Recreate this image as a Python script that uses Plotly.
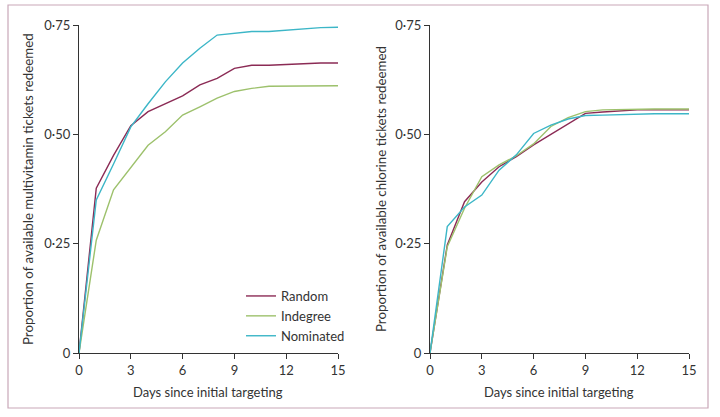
import plotly.graph_objects as go

days = list(range(16))

# Multivitamin panel
mv_random = [0, 0.377, 0.452, 0.520, 0.552, 0.570, 0.588, 0.613, 0.628, 0.651, 0.658, 0.658, 0.660, 0.662, 0.663, 0.663]
mv_indegree = [0, 0.258, 0.373, 0.424, 0.475, 0.506, 0.544, 0.563, 0.583, 0.598, 0.605, 0.610, 0.610, 0.610, 0.610, 0.611]
mv_nominated = [0, 0.350, 0.432, 0.517, 0.570, 0.620, 0.663, 0.697, 0.727, 0.731, 0.735, 0.735, 0.738, 0.741, 0.744, 0.745]

# Chlorine panel
cl_random = [0, 0.247, 0.346, 0.391, 0.426, 0.449, 0.476, 0.500, 0.525, 0.548, 0.551, 0.553, 0.556, 0.556, 0.556, 0.556]
cl_indegree = [0, 0.243, 0.331, 0.403, 0.430, 0.451, 0.478, 0.518, 0.538, 0.552, 0.556, 0.557, 0.558, 0.558, 0.558, 0.558]
cl_nominated = [0, 0.289, 0.334, 0.361, 0.418, 0.453, 0.502, 0.521, 0.535, 0.543, 0.544, 0.545, 0.547, 0.547, 0.547, 0.547]

series_names = ["Random", "Indegree", "Nominated"]
colors = ["#8b2b55", "#9dc16c", "#3cb6c7"]

x_ticks = [0, 3, 6, 9, 12, 15]
y_ticks = [0, 0.25, 0.50, 0.75]
y_ticktext = ["0", "0·25", "0·50", "0·75"]

FONT = "Lato"
fig = go.Figure()

for name, col, ys in zip(series_names, colors, [mv_random, mv_indegree, mv_nominated]):
    fig.add_trace(go.Scatter(x=days, y=ys, mode="lines", name=name,
                             line=dict(color=col, width=1.4),
                             xaxis="x", yaxis="y", showlegend=True))
for name, col, ys in zip(series_names, colors, [cl_random, cl_indegree, cl_nominated]):
    fig.add_trace(go.Scatter(x=days, y=ys, mode="lines", name=name,
                             line=dict(color=col, width=1.4),
                             xaxis="x2", yaxis="y2", showlegend=False))

W, H = 720, 417
ydom = [64 / H, 392 / H]
axis_common = dict(showgrid=False, zeroline=False, showline=True, linecolor="#333333",
                   linewidth=1.2, ticks="outside", ticklen=5, tickwidth=1.2,
                   tickcolor="#333333", tickfont=dict(family=FONT, size=13, color="#333333"))

fig.update_layout(
    autosize=True,
    margin=dict(l=0, r=0, t=0, b=0, autoexpand=False),
    paper_bgcolor="white", plot_bgcolor="white",
    font=dict(family=FONT, size=13, color="#333333"),
    xaxis=dict(domain=[79 / W, 338 / W], range=[0, 15], tickvals=x_ticks, anchor="y", **axis_common),
    yaxis=dict(domain=ydom, range=[0, 0.75], tickvals=y_ticks, ticktext=y_ticktext, anchor="x", **axis_common),
    xaxis2=dict(domain=[430 / W, 689 / W], range=[0, 15], tickvals=x_ticks, anchor="y2", **axis_common),
    yaxis2=dict(domain=ydom, range=[0, 0.75], tickvals=y_ticks, ticktext=y_ticktext, anchor="x2", **axis_common),
    legend=dict(x=241 / W, y=1 - 281 / H, xanchor="left", yanchor="top",
                bgcolor="rgba(0,0,0,0)", font=dict(family=FONT, size=13, color="#333333"),
                itemwidth=30, tracegroupgap=0, itemclick=False),
    showlegend=True,
)

annots = [
    dict(text="Proportion of available multivitamin tickets redeemed", x=28 / W, y=1 - 189 / H, textangle=-90, size=13.3),
    dict(text="Proportion of available chlorine tickets redeemed", x=381 / W, y=1 - 189 / H, textangle=-90, size=13.3),
    dict(text="Days since initial targeting", x=208 / W, y=1 - 392 / H, textangle=0, size=13),
    dict(text="Days since initial targeting", x=559 / W, y=1 - 392 / H, textangle=0, size=13),
]
for a in annots:
    sz = a.pop("size")
    fig.add_annotation(xref="paper", yref="paper", showarrow=False,
                       xanchor="center", yanchor="middle",
                       font=dict(family=FONT, size=sz, color="#333333"), **a)

fig.add_shape(type="rect", xref="paper", yref="paper",
              x0=8 / W, x1=708 / W, y0=1 - 408 / H, y1=1 - 5 / H,
              line=dict(color="#c9a7b8", width=1.2), fillcolor="rgba(0,0,0,0)", layer="below")

post = (
    "document.documentElement.style.height='100%';"
    "document.documentElement.style.margin='0';"
    "document.body.style.margin='0';"
    "document.body.style.height='100%';"
    "document.body.style.overflow='hidden';"
    "var gd=document.getElementById('{plot_id}');"
    "gd.style.width='100vw';gd.style.height='100vh';"
    "Plotly.Plots.resize(gd);"
)

fig.write_html("out.html", config={"displayModeBar": False, "responsive": True},
               default_width="100vw", default_height="100vh", post_script=post)
